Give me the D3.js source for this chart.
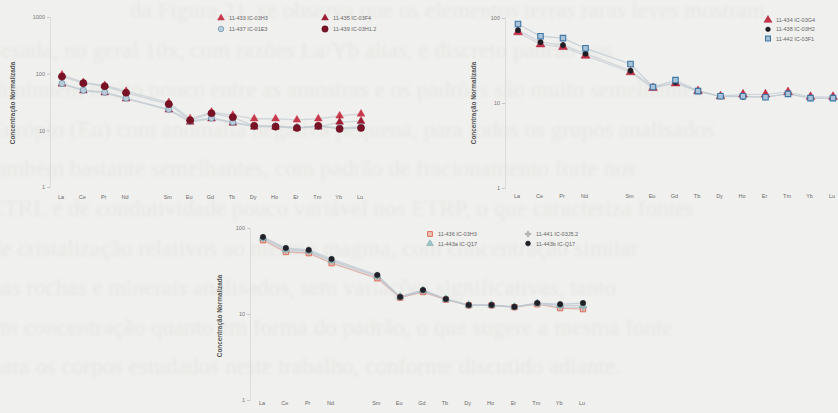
<!DOCTYPE html>
<html>
<head>
<meta charset="utf-8">
<script src="https://cdn.jsdelivr.net/npm/d3@7"></script>
<style>
  html, body { margin: 0; padding: 0; background: #f0f0ee; }
  svg { display: block; }
  .chart text { font-family: "Liberation Sans", "DejaVu Sans", sans-serif; }
  .through text { font-family: "Liberation Serif", "DejaVu Serif", serif; }
</style>
</head>
<body>
<svg id="page" width="838" height="413"></svg>
<script>
// Rare earth elements (Pm has no analysis, kept as an empty slot on the axis)
const elements = ["La","Ce","Pr","Nd","Pm","Sm","Eu","Gd","Tb","Dy","Ho","Er","Tm","Yb","Lu"];
const elementLabels = ["La","Ce","Pr","Nd","","Sm","Eu","Gd","Tb","Dy","Ho","Er","Tm","Yb","Lu"];
const yTitle = "Concentração Normalizada";

// Diagram A
const ticksA = [1, 10, 100, 1000];
const a433 = [95, 70, 62, 49, null, 31, 16, 21, 18.5, 16, 16, 15.3, 16, 18, 19.5];
const a435 = [66, 50, 46, 36, null, 23, 14, 16, 13.5, 11.5, 11.5, 11, 11.5, 14, 14.5];
const a437 = [67, 51, 47, 37, null, 23.5, 14.5, 16.5, 14, 12, 12, 11.2, 11.8, 11, 11.5];
const a439 = [89, 68, 60, 46, null, 29, 15, 20, 17, 12, 11.6, 11, 12, 10.6, 11];

// Diagram B
const ticksB = [1, 10, 100];
const b434 = [68, 49, 45.6, 36, null, 23, 15, 17, 13.8, 12, 12.6, 12.6, 13.4, 11.8, 11.8];
const b438 = [72, 52, 48, 38, null, 24, 15.4, 17.5, 13.8, 12, 11.8, 11.7, 12.8, 11.4, 11.4];
const b442 = [85, 61, 58, 44, null, 28.8, 15.4, 18.6, 13.8, 12, 12, 11.7, 12.8, 11.4, 11.4];

// Diagram C
const ticksC = [1, 10, 100];
const c436 = [72, 52.6, 51, 39, null, 26, 15.5, 18, 14.7, 12.6, 12.6, 12, 13, 11.7, 11.4];
const c441 = [75, 55, 53, 41, null, 27, 15.8, 18.5, 14.9, 12.7, 12.7, 12.1, 13.2, 12.1, 11.9];
const c443a = [76, 56, 54, 42, null, 27.5, 15.8, 18.7, 14.9, 12.7, 12.7, 12.1, 13.3, 12.6, 12.6];
const c443b = [78.5, 58.5, 55.6, 43.6, null, 28.4, 15.8, 19, 14.9, 12.7, 12.7, 12.1, 13.4, 13, 13.4];

// Text of the facing page, faintly visible through the paper
const pageText = [
  "da Figura 21, se observa que os elementos terras raras leves mostram",
  "pesada, no geral 10x, com razões La/Yb altas, e discreto padrão nos",
  "diminuem muito pouco entre as amostras e os padrões são muito semelhantes",
  "Európio (Eu) com anomalia negativa pequena, para todos os grupos analisados",
  "também bastante semelhantes, com padrão de fracionamento forte nos",
  "ETRL e de condutividade pouco variável nos ETRP, o que caracteriza fontes",
  "de cristalização relativos ao mesmo magma, com concentração similar",
  "nas rochas e minerais analisados, sem variações significativas, tanto",
  "em concentração quanto em forma do padrão, o que sugere a mesma fonte",
  "para os corpos estudados neste trabalho, conforme discutido adiante."
];

const svg = d3.select("#page");

// faint show-through text
const defs = svg.append("defs");
defs.append("filter").attr("id", "soft")
  .append("feGaussianBlur").attr("stdDeviation", 1.6);
svg.append("g").attr("class", "through").attr("filter", "url(#soft)")
  .selectAll("text").data(pageText).join("text")
  .attr("x", (d, i) => i === 0 ? 130 : -10)
  .attr("y", (d, i) => 18 + i * 39.6)
  .attr("font-size", 23)
  .attr("fill", "#e6e6e3")
  .text(d => d);

function symbolPath(type, size) {
  return d3.symbol().type(type).size(size)();
}

function drawDiagram(cfg) {
  const g = svg.append("g").attr("class", "chart");
  const x = d3.scalePoint().domain(elements).range([cfg.x0, cfg.x1]);
  const y = d3.scaleLog().domain([cfg.ticks[0], cfg.ticks[cfg.ticks.length - 1]]).range([cfg.yb, cfg.yt]);

  // y axis
  const ax = g.append("g").attr("transform", `translate(${cfg.axisX},0)`)
    .call(d3.axisLeft(y).tickValues(cfg.ticks).tickFormat(d3.format("d")).tickSize(3).tickPadding(2));
  ax.select(".domain").attr("stroke", "#dcdcdc").attr("stroke-width", 1);
  ax.selectAll(".tick line").attr("stroke", "#c8c8c8");
  ax.selectAll(".tick text").attr("fill", "#777").attr("font-size", 5.5);

  // x labels
  g.append("g").selectAll("text").data(elements).join("text")
    .attr("x", d => x(d) - 1)
    .attr("y", cfg.labelY)
    .attr("text-anchor", "middle")
    .attr("font-size", 5.5)
    .attr("fill", "#6a6a6a")
    .text((d, i) => elementLabels[i]);

  // y title
  g.append("text")
    .attr("transform", `translate(${cfg.titleX},${cfg.titleY}) rotate(-90)`)
    .attr("text-anchor", "middle")
    .attr("font-size", 6.4)
    .attr("font-weight", "bold")
    .attr("fill", "#555")
    .text(yTitle);

  const line = d3.line()
    .defined(d => d.v != null)
    .x(d => x(d.e))
    .y(d => y(d.v));

  // series lines
  cfg.series.forEach(s => {
    const pts = elements.map((e, i) => ({ e, v: s.values[i] })).filter(d => d.v != null);
    g.append("path")
      .attr("d", line(pts))
      .attr("fill", "none")
      .attr("stroke", s.line)
      .attr("stroke-width", 1.3)
      .attr("opacity", 0.75);
  });

  // markers
  cfg.series.forEach(s => {
    const pts = elements.map((e, i) => ({ e, v: s.values[i] })).filter(d => d.v != null);
    g.append("g").selectAll("path").data(pts).join("path")
      .attr("transform", d => `translate(${x(d.e)},${y(d.v)})`)
      .attr("d", symbolPath(s.symbol, s.size))
      .attr("fill", s.fill)
      .attr("stroke", s.stroke)
      .attr("stroke-width", s.sw);
  });

  // legend
  const lg = g.append("g");
  cfg.series.forEach((s, i) => {
    const col = cfg.legendCols ? i % cfg.legendCols : 0;
    const row = cfg.legendCols ? Math.floor(i / cfg.legendCols) : i;
    const lx = cfg.legendX + col * cfg.legendDx;
    const ly = cfg.legendY + row * cfg.legendDy;
    lg.append("path")
      .attr("transform", `translate(${lx},${ly})`)
      .attr("d", symbolPath(s.symbol, s.size * 0.8))
      .attr("fill", s.fill).attr("stroke", s.stroke).attr("stroke-width", s.sw);
    lg.append("text")
      .attr("x", lx + 8).attr("y", ly + 2)
      .attr("font-size", 5.5).attr("fill", "#666")
      .text(s.name);
  });
}

drawDiagram({
  x0: 62, x1: 361, yb: 187, yt: 17, axisX: 50, ticks: ticksA,
  labelY: 199, titleX: 15, titleY: 103,
  legendX: 221, legendY: 18, legendDx: 104, legendDy: 11, legendCols: 2,
  series: [
    { name: "11-433 IC-03H3", values: a433, symbol: d3.symbolTriangle, size: 26, fill: "#c8384c", stroke: "#c8384c", sw: 0.5, line: "#c7cdd3" },
    { name: "11-435 IC-03F4", values: a435, symbol: d3.symbolTriangle, size: 26, fill: "#9c1c32", stroke: "#9c1c32", sw: 0.5, line: "#c7cdd3" },
    { name: "11-437 IC-01E3", values: a437, symbol: d3.symbolCircle, size: 30, fill: "#b9ccd8", stroke: "#6d97b3", sw: 0.8, line: "#bfc9d1" },
    { name: "11-439 IC-03H1.2", values: a439, symbol: d3.symbolCircle, size: 40, fill: "#7a1226", stroke: "#5e0c1c", sw: 0.5, line: "#c3cbd2" }
  ]
});

drawDiagram({
  x0: 518, x1: 833, yb: 188, yt: 18, axisX: 505, ticks: ticksB,
  labelY: 198, titleX: 476, titleY: 103,
  legendX: 768, legendY: 20, legendDx: 0, legendDy: 9.3, legendCols: 0,
  series: [
    { name: "11-434 IC-03G4", values: b434, symbol: d3.symbolTriangle, size: 34, fill: "#c8304a", stroke: "#a82038", sw: 0.5, line: "#c9cfd5" },
    { name: "11-438 IC-03H2", values: b438, symbol: d3.symbolCircle, size: 22, fill: "#1e1e24", stroke: "#1e1e24", sw: 0.5, line: "#c9cfd5" },
    { name: "11-442 IC-03F1", values: b442, symbol: d3.symbolSquare, size: 30, fill: "#a9c4d8", stroke: "#3d77a6", sw: 1.1, line: "#bec9d2" }
  ]
});

drawDiagram({
  x0: 263, x1: 583, yb: 400, yt: 228, axisX: 250, ticks: ticksC,
  labelY: 405, titleX: 222, titleY: 316,
  legendX: 430, legendY: 234, legendDx: 98, legendDy: 9.5, legendCols: 2,
  series: [
    { name: "11-436 IC-03H3", values: c436, symbol: d3.symbolSquare, size: 28, fill: "#f2c4b8", stroke: "#de6a58", sw: 1, line: "#dba09a" },
    { name: "11-441 IC-03J5.2", values: c441, symbol: d3.symbolCross, size: 22, fill: "#b8b8b8", stroke: "#a0a0a0", sw: 0.3, line: "#c5cdd4" },
    { name: "11-443a IC-Q17", values: c443a, symbol: d3.symbolTriangle, size: 24, fill: "#9fc4c4", stroke: "#6aa0a4", sw: 0.5, line: "#bfc9d1" },
    { name: "11-443b IC-Q17", values: c443b, symbol: d3.symbolCircle, size: 24, fill: "#202028", stroke: "#202028", sw: 0.5, line: "#b9c5cf" }
  ]
});
</script>
</body>
</html>
